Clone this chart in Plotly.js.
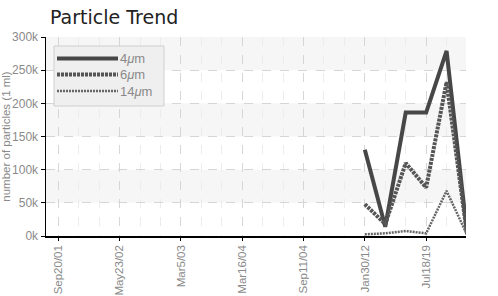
<!DOCTYPE html>
<html>
<head>
<meta charset="utf-8">
<script src="https://cdn.plot.ly/plotly-3.0.1.min.js"></script>
<style>
html,body{margin:0;padding:0;background:#fff;}
#chart{width:498px;height:296px;}
</style>
</head>
<body>
<div id="chart"></div>
<script>
// ---- data ----
const tickLabels = ['Sep20/01','May23/02','Mar5/03','Mar16/04','Sep11/04','Jan30/12','Jul18/19'];
const tickIndex = [0, 3, 6, 9, 12, 15, 18];
const xIndex = [15, 16, 17, 18, 19, 20];
const seriesNames = ['4<i>μ</i>m', '6<i>μ</i>m', '14<i>μ</i>m'];
const s4um  = [130000, 14000, 186000, 186000, 279000, 5000];
const s6um  = [48000, 18000, 110000, 73000, 232000, 3000];
const s14um = [2500, 4000, 7500, 4000, 68000, 2000];
const yTickVals = [0, 50000, 100000, 150000, 200000, 250000, 300000];
const yTickText = ['0k', '50k', '100k', '150k', '200k', '250k', '300k'];

// ---- geometry helpers (plot area in pixels) ----
const W = 498, H = 296;
const M = {l: 46, r: 32, t: 37, b: 60};
const pw = W - M.l - M.r, ph = H - M.t - M.b;
const px = x => (x - M.l) / pw;
const py = y => (H - M.b - y) / ph;

const lineStyles = [
  {color: '#474747', width: 4, dash: 'solid'},
  {color: '#555555', width: 4, dash: '3px,1px'},
  {color: '#666666', width: 2.5, dash: '2px,1px'}
];
const allSeries = [s4um, s6um, s14um];

const traces = allSeries.map((s, i) => ({
  type: 'scatter', mode: 'lines', x: xIndex, y: s, name: seriesNames[i],
  line: lineStyles[i], showlegend: false, hoverinfo: 'skip'
}));

const FONT = '"Liberation Sans", Arial, sans-serif';

// alternating bands
const shapes = [];
for (let i = 1; i < yTickVals.length - 1; i += 2) {
  shapes.push({type: 'rect', xref: 'paper', yref: 'y', x0: 0, x1: 1,
    y0: yTickVals[i], y1: yTickVals[i + 1], fillcolor: '#f6f6f6', line: {width: 0}, layer: 'below'});
}
// legend box
shapes.push({type: 'rect', xref: 'paper', yref: 'paper', x0: px(54), x1: px(164), y0: py(106), y1: py(46),
  fillcolor: '#efefef', line: {color: '#cfcfcf', width: 1}, layer: 'above'});
const legY = [58.5, 74.5, 91];
const annotations = [];
legY.forEach((yy, i) => {
  shapes.push({type: 'line', xref: 'paper', yref: 'paper', x0: px(57), x1: px(118), y0: py(yy), y1: py(yy),
    line: lineStyles[i], layer: 'above'});
  annotations.push({xref: 'paper', yref: 'paper', x: px(118), y: py(yy), xanchor: 'left', yanchor: 'middle',
    text: seriesNames[i], showarrow: false,
    font: {family: FONT, size: 13, color: '#8a8a8a'}});
});

const tickFont = {family: FONT, size: 11.5, color: '#8a8a8a'};

const layout = {
  width: W, height: H,
  margin: M,
  paper_bgcolor: '#ffffff', plot_bgcolor: '#ffffff',
  title: {text: 'Particle Trend', font: {family: '"DejaVu Sans", sans-serif', size: 19, color: '#222'},
    xref: 'paper', x: px(50), xanchor: 'left', yref: 'container', y: 1 - 17 / H, yanchor: 'middle'},
  showlegend: false,
  xaxis: {
    range: [-0.6, 19.95], tickmode: 'array', tickvals: tickIndex, ticktext: tickLabels,
    tickangle: -90, tickfont: tickFont, ticks: 'outside', ticklen: 3, tickcolor: '#000',
    showline: true, linecolor: '#000', linewidth: 1.5,
    showgrid: true, gridcolor: '#d6d6d6', griddash: 'dash', gridwidth: 1,
    minor: {tickmode: 'linear', tick0: 0, dtick: 1, showgrid: true, gridcolor: '#ececec', griddash: 'dash', ticks: ''},
    zeroline: false, fixedrange: true
  },
  yaxis: {
    range: [0, 300000], tickmode: 'array', tickvals: yTickVals, ticktext: yTickText,
    tickfont: {family: FONT, size: 12, color: '#8a8a8a'},
    ticks: 'outside', ticklen: 4, tickcolor: '#000',
    showline: true, linecolor: '#000', linewidth: 1.5,
    showgrid: true, gridcolor: '#d6d6d6', griddash: 'dash', gridwidth: 1,
    zeroline: false, fixedrange: true,
    title: {text: 'number of particles (1 ml)', font: {family: FONT, size: 11.5, color: '#8a8a8a'}, standoff: 2}
  },
  shapes: shapes,
  annotations: annotations
};

Plotly.newPlot('chart', traces, layout, {staticPlot: true, displayModeBar: false});
</script>
</body>
</html>
